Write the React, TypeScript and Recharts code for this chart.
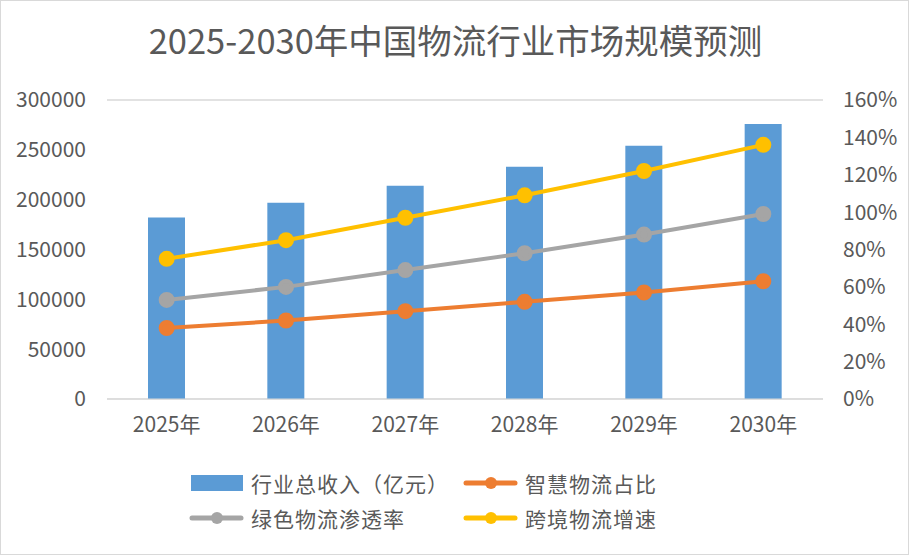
import React from "react";
import {
  ComposedChart,
  Bar,
  Line,
  XAxis,
  YAxis,
  CartesianGrid,
} from "recharts";

const years = ["2025年", "2026年", "2027年", "2028年", "2029年", "2030年"];
const revenue = [182000, 197000, 214000, 233000, 254000, 276000];
const smartShare = [38, 42, 47, 52, 57, 63];
const greenRate = [53, 60, 69, 78, 88, 99];
const crossBorder = [75, 85, 97, 109, 122, 136];
const leftTicks = [0, 50000, 100000, 150000, 200000, 250000, 300000];
const rightTicks = [0, 20, 40, 60, 80, 100, 120, 140, 160];

const data = years.map((name, i) => ({
  name,
  revenue: revenue[i],
  smart: smartShare[i],
  green: greenRate[i],
  cross: crossBorder[i],
}));

const FONT = '"Noto Sans CJK SC", "Microsoft YaHei", sans-serif';
const TEXT = "#595959";

const BLUE = "#5B9BD5";
const ORANGE = "#ED7D31";
const GRAY = "#A5A5A5";
const YELLOW = "#FFC000";

const LineIcon = ({ color }: { color: string }) => (
  <svg width={55} height={14} style={{ marginRight: 7 }}>
    <line x1={3} y1={7} x2={52} y2={7} stroke={color} strokeWidth={5} strokeLinecap="round" />
    <circle cx={28} cy={7} r={6} fill={color} />
  </svg>
);

const BarIcon = ({ color }: { color: string }) => (
  <svg width={55} height={16} style={{ marginRight: 7 }}>
    <rect x={2} y={0} width={52} height={16} fill={color} />
  </svg>
);

const axisTick = { fill: TEXT, fontSize: 21, fontFamily: FONT };

const App = () => {
  return (
    <div
      style={{
        position: "absolute",
        left: 0,
        top: 0,
        width: 909,
        height: 555,
        background: "#fff",
        fontFamily: FONT,
        boxSizing: "border-box",
        border: "1px solid #d9d9d9",
      }}
    >
      <div
        style={{
          position: "absolute",
          top: 13,
          left: 0,
          width: 909,
          textAlign: "center",
          fontSize: 34.5,
          color: TEXT,
        }}
      >
        2025-2030年中国物流行业市场规模预测
      </div>
      <ComposedChart
        width={907}
        height={553}
        data={data}
        margin={{ top: 99, right: 0, bottom: 0, left: 0 }}
        style={{ position: "absolute", left: 0, top: 0 }}
      >
        <CartesianGrid vertical={false} stroke="#d9d9d9" strokeWidth={1.5} />
        <XAxis
          dataKey="name"
          tickLine={false}
          axisLine={{ stroke: "#d9d9d9" }}
          tick={axisTick}
          tickSize={0}
          tickMargin={18}
          height={155}
        />
        <YAxis
          yAxisId="left"
          domain={[0, 300000]}
          ticks={leftTicks}
          width={106}
          axisLine={false}
          tickLine={false}
          tickMargin={15}
          tick={axisTick}
        />
        <YAxis
          yAxisId="right"
          orientation="right"
          domain={[0, 160]}
          ticks={rightTicks}
          width={85}
          axisLine={false}
          tickLine={false}
          tickMargin={14}
          tickFormatter={(v: number) => `${v}%`}
          tick={{ ...axisTick, textAnchor: "start" }}
        />
        <Bar
          yAxisId="left"
          dataKey="revenue"
          name="行业总收入（亿元）"
          fill={BLUE}
          barSize={37}
          isAnimationActive={false}
        />
        <Line
          yAxisId="right"
          dataKey="smart"
          name="智慧物流占比"
          stroke={ORANGE}
          strokeWidth={4}
          dot={{ r: 6, fill: ORANGE, stroke: ORANGE }}
          isAnimationActive={false}
        />
        <Line
          yAxisId="right"
          dataKey="green"
          name="绿色物流渗透率"
          stroke={GRAY}
          strokeWidth={4}
          dot={{ r: 6, fill: GRAY, stroke: GRAY }}
          isAnimationActive={false}
        />
        <Line
          yAxisId="right"
          dataKey="cross"
          name="跨境物流增速"
          stroke={YELLOW}
          strokeWidth={4}
          dot={{ r: 6, fill: YELLOW, stroke: YELLOW }}
          isAnimationActive={false}
        />
      </ComposedChart>
      <div
        style={{
          position: "absolute",
          left: 188,
          top: 467,
          display: "grid",
          gridTemplateColumns: "274px 260px",
          rowGap: 5,
          fontSize: 21,
          letterSpacing: 1,
          color: TEXT,
        }}
      >
        <div style={{ display: "flex", alignItems: "center", height: 30 }}>
          <BarIcon color={BLUE} />
          行业总收入（亿元）
        </div>
        <div style={{ display: "flex", alignItems: "center", height: 30 }}>
          <LineIcon color={ORANGE} />
          智慧物流占比
        </div>
        <div style={{ display: "flex", alignItems: "center", height: 30 }}>
          <LineIcon color={GRAY} />
          绿色物流渗透率
        </div>
        <div style={{ display: "flex", alignItems: "center", height: 30 }}>
          <LineIcon color={YELLOW} />
          跨境物流增速
        </div>
      </div>
    </div>
  );
};

export default App;
